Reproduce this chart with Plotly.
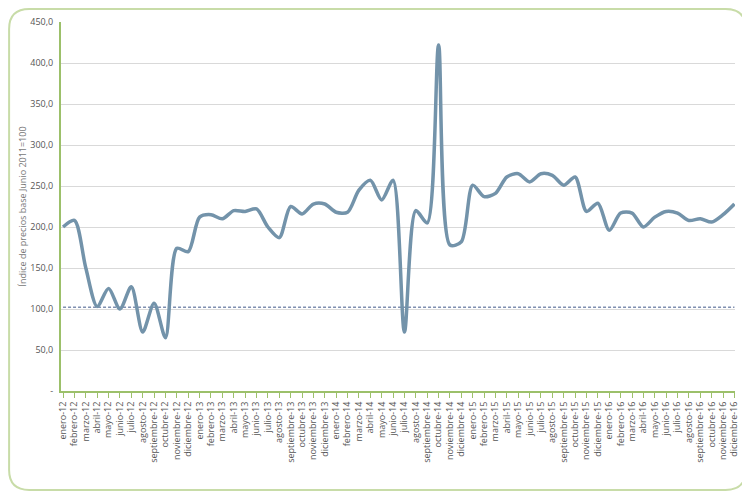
import plotly.graph_objects as go

months = ["enero","febrero","marzo","abril","mayo","junio","julio","agosto",
          "septiembre","octubre","noviembre","diciembre"]
years = ["12","13","14","15","16"]
categories = [f"{m}-{y}" for y in years for m in months]

values = [200, 208, 150, 103, 125, 100, 127, 72, 107, 65, 174, 170,
          212, 215, 210, 220, 219, 222, 200, 187, 225, 216, 228, 228,
          218, 218, 245, 257, 233, 257, 72, 220, 205, 422, 178, 182,
          251, 237, 241, 261, 265, 255, 265, 263, 251, 261, 219, 229,
          196, 217, 217, 200, 212, 219, 217, 208, 210, 206, 215, 228]
reference = 102
yticks = [0, 50, 100, 150, 200, 250, 300, 350, 400, 450]
yticklabels = ["-", "50,0", "100,0", "150,0", "200,0", "250,0", "300,0", "350,0", "400,0", "450,0"]

x = list(range(len(categories)))
fig = go.Figure()
fig.add_trace(go.Scatter(x=x, y=[reference]*len(x), mode="lines",
                         line=dict(color="#7f8fb0", width=1.5, dash="3px,2px")))
fig.add_trace(go.Scatter(x=x, y=values, mode="lines",
                         line=dict(color="#7393aa", width=3.5, shape="spline", smoothing=0.8)))

green = "#9cc06a"
fig.update_layout(
    width=742, height=486, showlegend=False,
    paper_bgcolor="white", plot_bgcolor="white",
    margin=dict(l=53, r=15, t=14, b=103),
    xaxis=dict(range=[-0.18, 59.05], tickmode="array", tickvals=x, ticktext=categories,
               tickangle=-90, tickfont=dict(family="Open Sans", size=9, color="#555"),
               showgrid=False, showline=True, linecolor=green, linewidth=2,
               ticks="outside", tickcolor=green, ticklen=5, zeroline=False, automargin=False),
    yaxis=dict(range=[0, 450], tickmode="array", tickvals=yticks, ticktext=yticklabels,
               tickfont=dict(family="Open Sans", size=9, color="#555"),
               showgrid=True, gridcolor="#d9d9d9", gridwidth=1, automargin=False,
               ticks="outside", ticklen=4, tickcolor="white",
               showline=True, linecolor=green, linewidth=2, zeroline=False,
               title=dict(text="Índice de precios base Junio 2011=100",
                          font=dict(family="Open Sans", size=9, color="#777"), standoff=2)),
)
fig.add_shape(type="path", xref="paper", yref="paper",
              path=("M -0.047 1.035 L 0.986 1.035 Q 1.016 1.035 1.016 0.981 L 1.016 -0.214 "
                    "Q 1.016 -0.268 0.986 -0.268 L -0.047 -0.268 Q -0.077 -0.268 -0.077 -0.214 "
                    "L -0.077 0.981 Q -0.077 1.035 -0.047 1.035 Z"),
              line=dict(color="#c8dca8", width=2), layer="below")
fig.write_html("out.html")
